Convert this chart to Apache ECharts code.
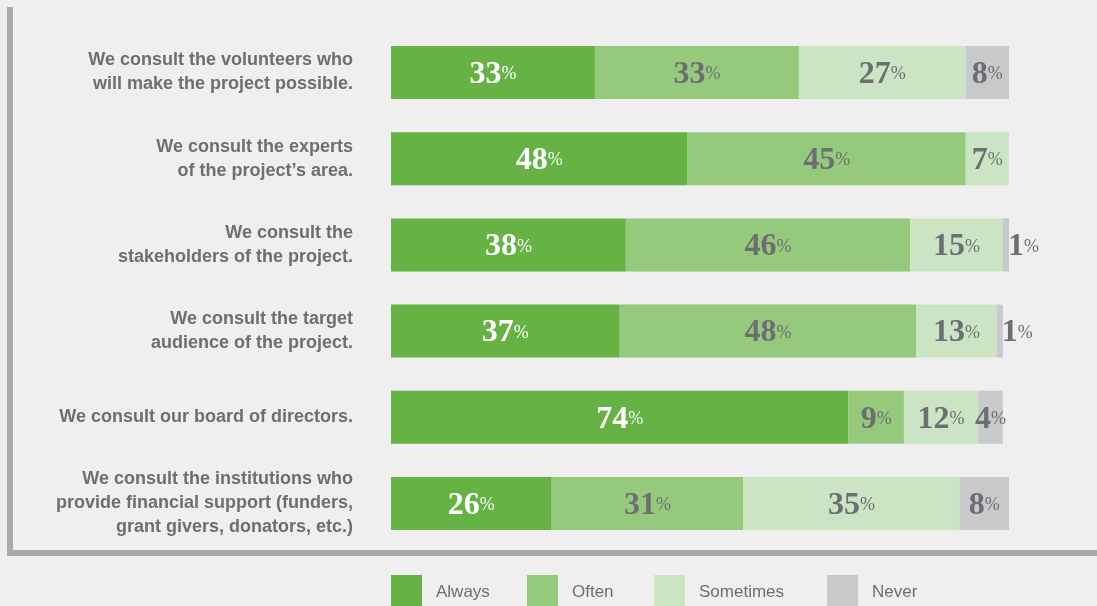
<!DOCTYPE html>
<html>
<head>
<meta charset="utf-8">
<script src="https://cdn.jsdelivr.net/npm/echarts@6/dist/echarts.min.js"></script>
<style>
  html, body { margin: 0; padding: 0; background: #eeefee; }
  #chart { width: 1097px; height: 606px; }
</style>
</head>
<body>
<div id="chart"></div>
<script>
// Survey statements (rows, top to bottom)
const statements = [
  'We consult the volunteers who\nwill make the project possible.',
  'We consult the experts\nof the project\u2019s area.',
  'We consult the\nstakeholders of the project.',
  'We consult the target\naudience of the project.',
  'We consult our board of directors.',
  'We consult the institutions who\nprovide financial support (funders,\ngrant givers, donators, etc.)'
];

// Share of answers per statement, in percent
const always    = [33, 48, 38, 37, 74, 26];
const often     = [33, 45, 46, 48, 9, 31];
const sometimes = [27, 7, 15, 13, 12, 35];
const never     = [8, null, 1, 1, 4, 8];

const seriesNames = ['Always', 'Often', 'Sometimes', 'Never'];

const colors = ['#66b245', '#95c97c', '#cbe4c3', '#c8c9cb'];
const textGray = '#6d6e72';
const frameGray = '#a9aaad';

function valueLabel(textColor) {
  return {
    show: true,
    position: 'inside',
    offset: [0, 2],
    formatter: p => (p.value == null ? '' : '{n|' + p.value + '}{p|%}'),
    rich: {
      n: { fontFamily: 'Liberation Serif', fontWeight: 'bold', fontSize: 32, color: textColor },
      p: { fontFamily: 'Liberation Serif', fontSize: 18, color: textColor }
    }
  };
}

// Very thin segments carry their label just past the bar end
function toItems(values) {
  return values.map(v => (v != null && v <= 2)
    ? { value: v, label: { position: 'right', distance: -1 } }
    : v);
}

const seriesData = [always, often, sometimes, never];

const chart = echarts.init(document.getElementById('chart'), null, { renderer: 'canvas' });

const legendLefts = [391, 527, 654, 827];

chart.setOption({
  backgroundColor: '#eeefee',
  animation: false,
  grid: { left: 391, width: 618, top: 29.4, bottom: 59.4, containLabel: false },
  xAxis: { type: 'value', min: 0, max: 100, show: false },
  yAxis: {
    type: 'category',
    inverse: true,
    data: statements,
    axisLine: { show: false },
    axisTick: { show: false },
    splitLine: { show: false },
    axisLabel: {
      margin: 38,
      align: 'right',
      color: textGray,
      fontFamily: 'Liberation Sans',
      fontWeight: 'bold',
      fontSize: 18,
      lineHeight: 24
    }
  },
  legend: seriesNames.map((name, i) => ({
    data: [name],
    left: legendLefts[i],
    top: 575,
    padding: 0,
    itemWidth: 31,
    itemHeight: 34,
    icon: 'rect',
    selectedMode: false,
    textStyle: { color: textGray, fontFamily: 'Liberation Sans', fontSize: 17, padding: [0, 0, 0, 9] }
  })),
  series: seriesNames.map((name, i) => ({
    name: name,
    type: 'bar',
    stack: 'total',
    barWidth: 53,
    itemStyle: { color: colors[i] },
    label: valueLabel(i === 0 ? '#ffffff' : textGray),
    data: toItems(seriesData[i])
  })),
  graphic: [
    { type: 'line', shape: { x1: 10, y1: 7, x2: 10, y2: 553 }, style: { stroke: frameGray, lineWidth: 6 } },
    { type: 'line', shape: { x1: 7, y1: 553, x2: 1097, y2: 553 }, style: { stroke: frameGray, lineWidth: 6 } }
  ]
});
</script>
</body>
</html>
